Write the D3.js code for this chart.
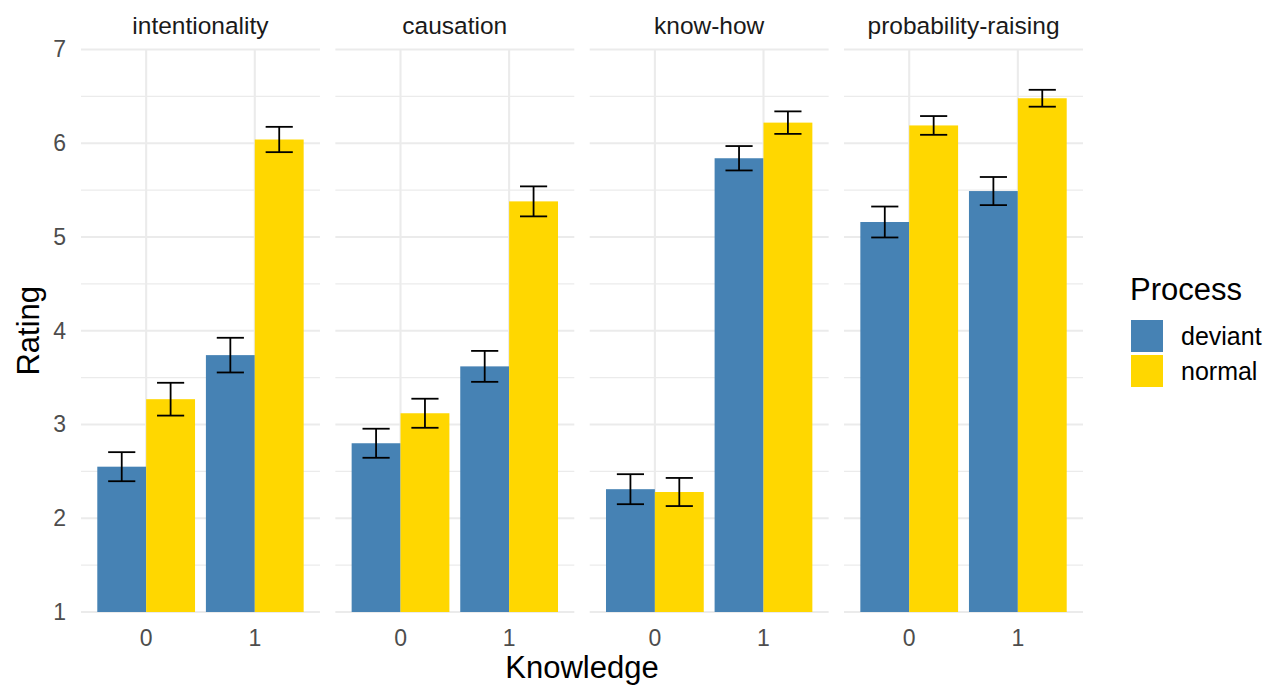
<!DOCTYPE html>
<html>
<head>
<meta charset="utf-8">
<script src="https://cdn.jsdelivr.net/npm/d3@7"></script>
<style>
  body { margin: 0; background: #fff; }
  svg { font-family: Arial, "Liberation Sans", sans-serif; }
</style>
</head>
<body>
<svg id="chart" width="1274" height="687"></svg>
<script>
const facets = ['intentionality', 'causation', 'know-how', 'probability-raising'];
const knowledge = ['0', '1'];
const processes = ['deviant', 'normal'];
const colors = ['#4682B4', '#FFD700'];

// mean ratings per facet: [k0, k1]
const deviantMean = [[2.55, 3.74], [2.80, 3.62], [2.31, 5.84], [5.16, 5.49]];
const normalMean = [[3.27, 6.04], [3.12, 5.38], [2.28, 6.22], [6.19, 6.48]];
// error bar half-widths
const deviantErr = [[0.155, 0.185], [0.155, 0.165], [0.16, 0.13], [0.165, 0.15]];
const normalErr = [[0.175, 0.135], [0.155, 0.16], [0.15, 0.12], [0.10, 0.09]];

const yTicks = [1, 2, 3, 4, 5, 6, 7];

const rows = [];
facets.forEach((f, fi) => {
  knowledge.forEach((k, ki) => {
    rows.push({ facet: f, knowledge: k, process: 'deviant', mean: deviantMean[fi][ki], err: deviantErr[fi][ki] });
    rows.push({ facet: f, knowledge: k, process: 'normal', mean: normalMean[fi][ki], err: normalErr[fi][ki] });
  });
});

const svg = d3.select('#chart');
const mLeft = 81, mRight = 1083, mTop = 49.5, mBottom = 612;
const gap = 15.4;
const pw = (mRight - mLeft - gap * (facets.length - 1)) / facets.length;

const y = d3.scaleLinear().domain([1, 7]).range([mBottom, mTop]);
const x = d3.scaleBand().domain(knowledge).range([0, pw]).paddingInner(0.1).paddingOuter(0.15);
const xs = d3.scaleBand().domain(processes).range([0, x.bandwidth()]);
const color = d3.scaleOrdinal().domain(processes).range(colors);

const minor = d3.range(1.5, 7, 1);

facets.forEach((f, fi) => {
  const g = svg.append('g').attr('transform', `translate(${mLeft + fi * (pw + gap)},0)`);

  g.selectAll('.minor').data(minor).join('line')
    .attr('x1', 0).attr('x2', pw)
    .attr('y1', d => y(d)).attr('y2', d => y(d))
    .attr('stroke', '#ebebeb').attr('stroke-width', 1.1);
  g.selectAll('.major').data(yTicks).join('line')
    .attr('x1', 0).attr('x2', pw)
    .attr('y1', d => y(d)).attr('y2', d => y(d))
    .attr('stroke', '#ebebeb').attr('stroke-width', 2.1);
  g.selectAll('.vgrid').data(knowledge).join('line')
    .attr('x1', d => x(d) + x.bandwidth() / 2).attr('x2', d => x(d) + x.bandwidth() / 2)
    .attr('y1', mTop).attr('y2', mBottom)
    .attr('stroke', '#ebebeb').attr('stroke-width', 2.1);

  const data = rows.filter(r => r.facet === f);

  g.selectAll('rect').data(data).join('rect')
    .attr('x', d => x(d.knowledge) + xs(d.process))
    .attr('width', xs.bandwidth())
    .attr('y', d => y(d.mean))
    .attr('height', d => y(1) - y(d.mean))
    .attr('fill', d => color(d.process));

  const capW = x.step() * 0.25;
  const eb = g.selectAll('.eb').data(data).join('g')
    .attr('transform', d => `translate(${x(d.knowledge) + xs(d.process) + xs.bandwidth() / 2},0)`);
  eb.append('line')
    .attr('y1', d => y(d.mean + d.err)).attr('y2', d => y(d.mean - d.err))
    .attr('stroke', '#000').attr('stroke-width', 1.8);
  eb.append('line').attr('x1', -capW / 2).attr('x2', capW / 2)
    .attr('y1', d => y(d.mean + d.err)).attr('y2', d => y(d.mean + d.err))
    .attr('stroke', '#000').attr('stroke-width', 1.8);
  eb.append('line').attr('x1', -capW / 2).attr('x2', capW / 2)
    .attr('y1', d => y(d.mean - d.err)).attr('y2', d => y(d.mean - d.err))
    .attr('stroke', '#000').attr('stroke-width', 1.8);

  // strip label
  g.append('text').attr('x', pw / 2).attr('y', 34)
    .attr('text-anchor', 'middle').attr('font-size', 24.5).attr('fill', '#1a1a1a')
    .text(f);

  // x axis
  const xa = g.append('g').attr('transform', `translate(0,${mBottom})`)
    .call(d3.axisBottom(x).tickSize(0).tickPadding(0));
  xa.select('.domain').remove();
  xa.selectAll('text').attr('dy', null).attr('y', 34)
    .attr('font-size', 23).attr('fill', '#4d4d4d').attr('font-family', null);
});

// y axis
const ya = svg.append('g').attr('transform', `translate(${mLeft - 15},0)`)
  .call(d3.axisLeft(y).tickValues(yTicks).tickSize(0).tickPadding(0).tickFormat(d3.format('d')));
ya.select('.domain').remove();
ya.selectAll('text').attr('font-size', 23).attr('fill', '#4d4d4d').attr('font-family', null);

// axis titles
svg.append('text').attr('x', (mLeft + mRight) / 2).attr('y', 678)
  .attr('text-anchor', 'middle').attr('font-size', 31).attr('fill', '#000').text('Knowledge');
svg.append('text').attr('transform', `translate(39,${(mTop + mBottom) / 2}) rotate(-90)`)
  .attr('text-anchor', 'middle').attr('font-size', 31).attr('fill', '#000').text('Rating');

// legend
const lg = svg.append('g').attr('transform', 'translate(1131,0)');
lg.append('text').attr('x', -1).attr('y', 300).attr('font-size', 31).attr('fill', '#000').text('Process');
lg.selectAll('rect').data(processes).join('rect')
  .attr('x', 0).attr('y', (d, i) => 320 + i * 35).attr('width', 32).attr('height', 32)
  .attr('fill', d => color(d));
lg.selectAll('.lab').data(processes).join('text')
  .attr('x', 50).attr('y', (d, i) => 336 + i * 35).attr('dy', '0.35em')
  .attr('font-size', 25).attr('fill', '#000').text(d => d);
</script>
</body>
</html>
